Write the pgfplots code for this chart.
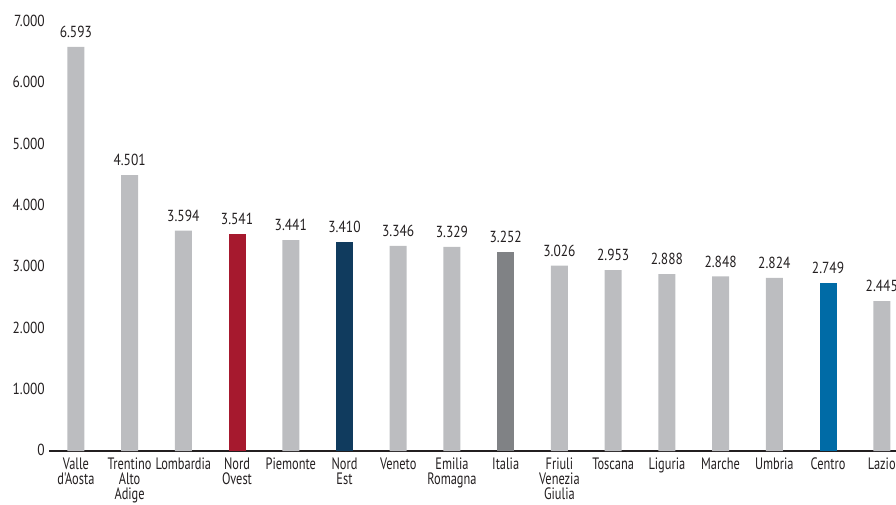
\documentclass[border=0pt]{standalone}
\usepackage{fontspec}
\setmainfont{PT Sans}[FakeStretch=0.84]
\newfontfamily\condfont{PT Sans}[FakeStretch=0.75]
\usepackage{pgfplots}
\usepackage{pgfplotstable}
\pgfplotsset{compat=1.18}
\definecolor{barg}{RGB}{188,189,192}
\definecolor{nordovest}{RGB}{166,25,46}
\definecolor{nordest}{RGB}{16,59,94}
\definecolor{italia}{RGB}{128,130,133}
\definecolor{centro}{RGB}{0,107,166}
\definecolor{axisc}{RGB}{35,31,32}
\pgfplotstableread{
x y lab
0 6593 6.593
1 4501 4.501
2 3594 3.594
4 3441 3.441
6 3346 3.346
7 3329 3.329
9 3026 3.026
10 2953 2.953
11 2888 2.888
12 2848 2.848
13 2824 2.824
15 2445 2.445
}\grigi
\pgfplotstableread{
x y lab
3 3541 3.541
}\nordovest
\pgfplotstableread{
x y lab
5 3410 3.410
}\nordest
\pgfplotstableread{
x y lab
8 3252 3.252
}\italia
\pgfplotstableread{
x y lab
14 2749 2.749
}\centro
\begin{document}
\begin{tikzpicture}[x=1pt,y=1pt]
\begin{axis}[
  at={(49pt,53pt)}, anchor=south west,
  scale only axis, width=865pt, height=429pt,
  xmin=-0.5, xmax=15.6, ymin=0, ymax=7000,
  axis lines*=left,
  y axis line style={draw=none},
  x axis line style={draw=axisc, line width=1.2pt},
  major tick length=0pt,
  ytick={0,1000,2000,3000,4000,5000,6000,7000},
  yticklabels={0,1.000,2.000,3.000,4.000,5.000,6.000,7.000},
  yticklabel style={font=\fontsize{16}{16}\selectfont, color=axisc, anchor=east, inner sep=0pt, xshift=-4pt, yshift=1pt},
  xtick={0,...,15},
  xticklabels={Valle\\d'Aosta,Trentino\\Alto\\Adige,Lombardia,Nord\\Ovest,Piemonte,Nord\\Est,Veneto,Emilia\\Romagna,Italia,Friuli\\Venezia\\Giulia,Toscana,Liguria,Marche,Umbria,Centro,Lazio},
  xticklabel style={font=\condfont\fontsize{16.5}{15}\selectfont, color=axisc, align=center, anchor=north, inner sep=0pt, yshift=-7pt},
  ybar, bar width=17pt, bar shift=0pt,
  clip=false,
  nodes near coords,
  point meta=explicit symbolic,
  every node near coord/.append style={font=\fontsize{16}{16}\selectfont, color=axisc, anchor=south, inner sep=0pt, yshift=9pt},
]
\addplot[fill=barg, draw=none] table[x=x,y=y,meta=lab]{\grigi};
\addplot[fill=nordovest, draw=none] table[x=x,y=y,meta=lab]{\nordovest};
\addplot[fill=nordest, draw=none] table[x=x,y=y,meta=lab]{\nordest};
\addplot[fill=italia, draw=none] table[x=x,y=y,meta=lab]{\italia};
\addplot[fill=centro, draw=none] table[x=x,y=y,meta=lab]{\centro};
\end{axis}
\pgfresetboundingbox
\useasboundingbox (0,0) rectangle (896,504);
\end{tikzpicture}
\end{document}
